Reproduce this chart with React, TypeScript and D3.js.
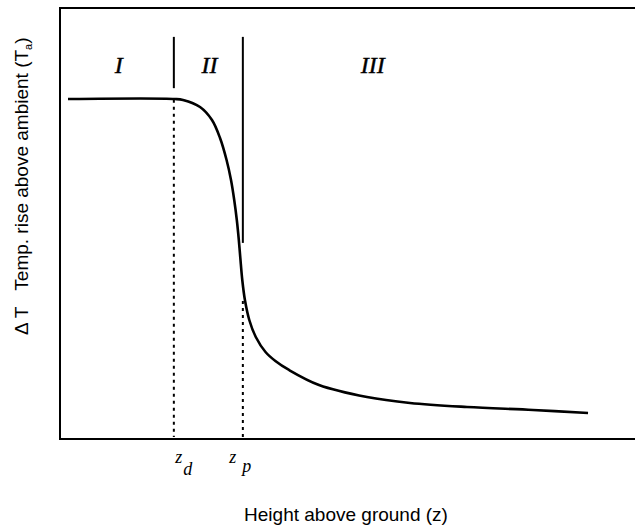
import React from "react";
import * as d3 from "d3";

// Curve: height above ground (z, arbitrary units) vs temperature rise ΔT (arbitrary units)
const heightZ = [0.139, 2.0, 2.139, 2.435, 2.643, 2.783, 2.897, 2.974, 3.03, 3.075, 3.11, 3.136, 3.17, 3.216, 3.292, 3.405, 3.574, 3.746, 3.983, 4.504, 5.339, 6.087, 7.078, 8.226, 9.183];
const deltaT = [7.889, 7.889, 7.865, 7.703, 7.401, 6.984, 6.473, 6.009, 5.545, 5.081, 4.617, 4.2, 3.689, 3.225, 2.761, 2.367, 2.019, 1.81, 1.601, 1.253, 0.974, 0.835, 0.742, 0.673, 0.603];

// Region boundaries
const zMarks = [
  { name: "d", z: 1.98, solidTop: 9.33, solidBottom: 8.14, dashTop: 7.87 },
  { name: "p", z: 3.18, solidTop: 9.33, solidBottom: 4.55, dashTop: 3.2 },
];
const regionLabels = [
  { text: "I", z: 1.02 },
  { text: "II", z: 2.6 },
  { text: "III", z: 5.44 },
];
const regionLabelY = 8.5;

const xTitle = "Height above ground (z)";
const yTitleDelta = "\u0394";
const yTitleT = "T";
const yTitleB = "Temp. rise above ambient (T";
const yTitleSub = "a";

const W = 635;
const H = 528;
const left = 60;
const right = 635;
const top = 8;
const bottom = 439;
// label offsets (px) for z / subscript relative to each boundary
const zLabelOffsets: Record<string, { z: number; sub: number; subY: number }> = {
  d: { z: 5, sub: 14, subY: 475 },
  p: { z: -10, sub: 4, subY: 472 },
};

export default function App() {
  const x = d3.scaleLinear().domain([0, 10]).range([left, right]);
  const y = d3.scaleLinear().domain([0, 10]).range([bottom, top]);
  const pts = heightZ.map((z, i) => [z, deltaT[i]] as [number, number]);
  const line = d3
    .line<[number, number]>()
    .x((d) => x(d[0]))
    .y((d) => y(d[1]))
    .curve(d3.curveCatmullRom.alpha(0.5));

  const serif = "'Liberation Serif', 'DejaVu Serif', serif";
  const sans = "'Liberation Sans', Arial, sans-serif";

  return (
    <svg width={W} height={H} style={{ position: "absolute", left: 0, top: 0, background: "#fff" }}>
      {/* frame */}
      <path
        d={`M${right},${top}H${left}V${bottom}H${right}`}
        fill="none"
        stroke="#000"
        strokeWidth={2}
      />
      {/* boundaries */}
      {zMarks.map((m) => {
        const off = zLabelOffsets[m.name];
        return (
          <g key={m.name}>
            <line x1={x(m.z)} x2={x(m.z)} y1={y(m.solidTop)} y2={y(m.solidBottom)} stroke="#000" strokeWidth={2} />
            <line
              x1={x(m.z)}
              x2={x(m.z)}
              y1={y(m.dashTop)}
              y2={y(0) - 2}
              stroke="#000"
              strokeWidth={2}
              strokeDasharray="3 4"
            />
            <text x={x(m.z) + off.z} y={463} fontFamily={serif} fontStyle="italic" fontSize={18} textAnchor="middle">
              z
            </text>
            <text x={x(m.z) + off.sub} y={off.subY} fontFamily={serif} fontStyle="italic" fontSize={18} textAnchor="middle">
              {m.name}
            </text>
          </g>
        );
      })}
      {/* curve */}
      <path d={line(pts) || ""} fill="none" stroke="#000" strokeWidth={2.6} />
      {/* region labels */}
      {regionLabels.map((r) => (
        <text
          key={r.text}
          x={x(r.z)}
          y={y(regionLabelY)}
          fontFamily={serif}
          fontStyle="italic"
          fontSize={24}
          textAnchor="middle"
          stroke="#000"
          strokeWidth={0.4}
        >
          {r.text}
        </text>
      ))}
      {/* x title */}
      <text x={346} y={521} fontFamily={sans} fontSize={19} textAnchor="middle">
        {xTitle}
      </text>
      {/* y title */}
      <text transform="translate(28,335) rotate(-90)" fontFamily={sans} fontSize={19}>
        <tspan>{yTitleDelta}</tspan>
        <tspan dx={4}>{yTitleT}</tspan>
        <tspan dx={16}>{yTitleB}</tspan>
        <tspan fontSize={11} dy={4}>{yTitleSub}</tspan>
        <tspan dy={-4}>)</tspan>
      </text>
    </svg>
  );
}
